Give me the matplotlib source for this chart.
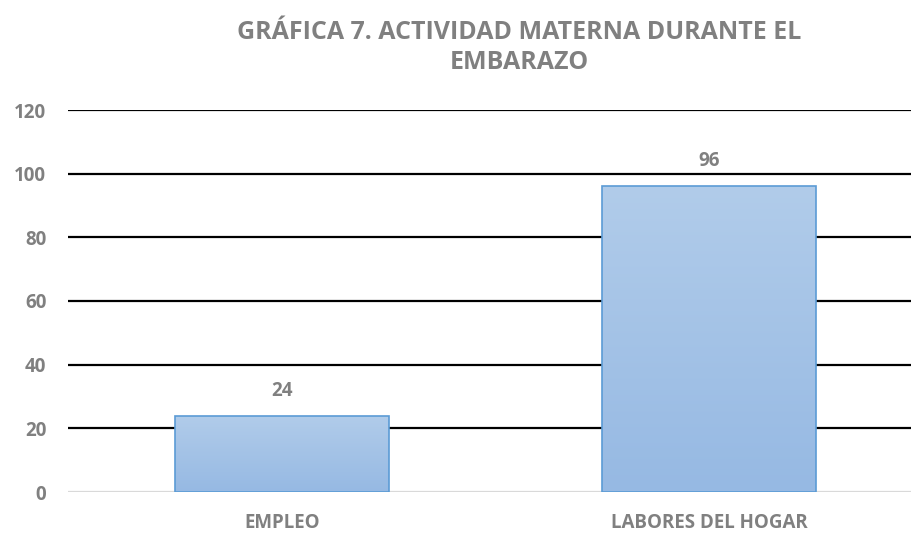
import matplotlib.pyplot as plt
import numpy as np
from matplotlib.colors import LinearSegmentedColormap

categories = ["EMPLEO", "LABORES DEL HOGAR"]
values = [24, 96]
y_ticks = [0, 20, 40, 60, 80, 100, 120]
title = "GRÁFICA 7. ACTIVIDAD MATERNA DURANTE EL\nEMBARAZO"

plt.rcParams['font.family'] = ['Open Sans', 'DejaVu Sans']
gray = '#808080'

fig = plt.figure(figsize=(9.12, 5.35), dpi=100)
ax = fig.add_axes([68.5 / 912, 43 / 535, 1 - 68.5 / 912, 382 / 535])

x = np.arange(len(categories))
bars = ax.bar(x, values, width=0.5, color='none', edgecolor='#5b9bd5',
              linewidth=1.2, zorder=3)

# gradient fill inside each bar
cmap = LinearSegmentedColormap.from_list('grad', ['#96b9e3', '#b1ccea'])
grad = np.linspace(0, 1, 256).reshape(-1, 1)
for b in bars:
    x0, y0 = b.get_x(), b.get_y()
    w, h = b.get_width(), b.get_height()
    im = ax.imshow(grad, cmap=cmap, aspect='auto', origin='lower',
                   extent=[x0, x0 + w, y0, y0 + h], zorder=2)
    im.set_clip_path(b)

for xi, v in zip(x, values):
    ax.annotate(str(v), (xi, v), xytext=(0, 18), textcoords='offset points',
                ha='center', va='center', fontsize=13.5, fontweight='bold',
                color=gray)

ax.set_xlim(-0.5, -0.5 + (912 - 68.5) / 427)
ax.set_ylim(0, 120)
ax.set_yticks(y_ticks)
ax.set_xticks(x)
ax.set_xticklabels(categories)
for s in ax.spines.values():
    s.set_visible(False)
ax.tick_params(length=0, labelsize=13.5, labelcolor=gray)
ax.tick_params(axis='y', pad=16)
ax.tick_params(axis='x', pad=15)
for lab in ax.get_xticklabels() + ax.get_yticklabels():
    lab.set_fontweight('bold')

for t in y_ticks:
    ax.axhline(t, color='#d9d9d9' if t == 0 else 'black',
               linewidth=1.6, zorder=1)

fig.text(519 / 912, 1 - 47.5 / 535, title, ha='center', va='center',
         fontsize=18, fontweight='bold', color=gray, linespacing=1.3)

fig.savefig('out.png', dpi=100)
